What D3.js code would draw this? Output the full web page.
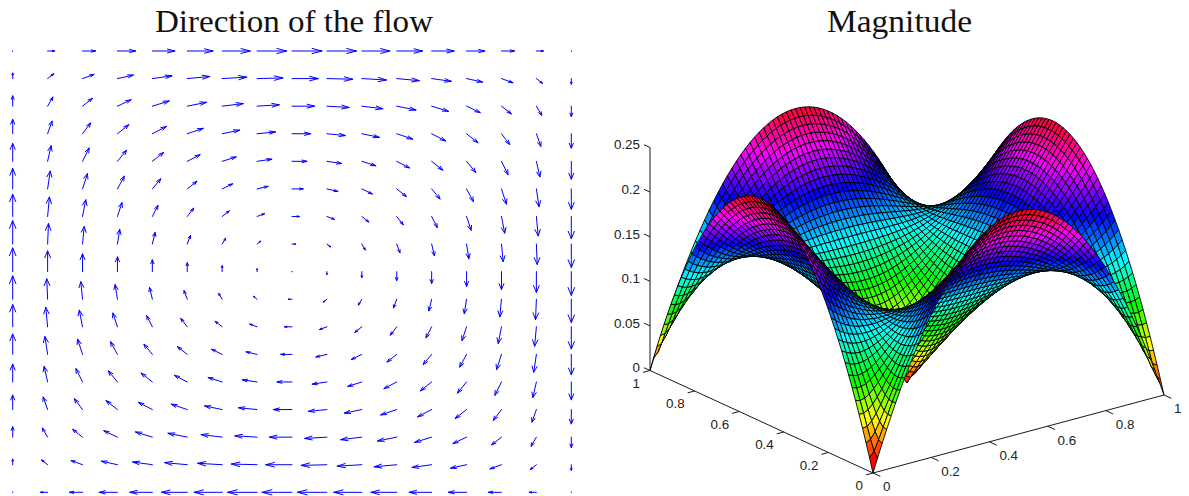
<!DOCTYPE html>
<html><head><meta charset="utf-8">
<script src="https://cdn.jsdelivr.net/npm/d3@7"></script>
<style>html,body{margin:0;padding:0;background:#fff;overflow:hidden}svg{display:block}</style>
</head><body><svg id="c" width="1189" height="496"></svg>
<script>
// ---- titles
const titleLeft = "Direction of the flow";
const titleRight = "Magnitude";
// ---- quiver: u and v read per grid point, rows from top (y=1) to bottom (y=0)
const quiverU = [
[0,.059,.109,.152,.188,.215,.234,.246,.25,.246,.234,.215,.188,.152,.109,.059,0],
[0,.051,.096,.133,.164,.188,.205,.215,.219,.215,.205,.188,.164,.133,.096,.051,0],
[0,.044,.082,.114,.141,.161,.176,.185,.188,.185,.176,.161,.141,.114,.082,.044,0],
[0,.037,.068,.095,.117,.134,.146,.154,.156,.154,.146,.134,.117,.095,.068,.037,0],
[0,.029,.055,.076,.094,.107,.117,.123,.125,.123,.117,.107,.094,.076,.055,.029,0],
[0,.022,.041,.057,.07,.081,.088,.092,.094,.092,.088,.081,.07,.057,.041,.022,0],
[0,.015,.027,.038,.047,.054,.059,.062,.063,.062,.059,.054,.047,.038,.027,.015,0],
[0,.007,.014,.019,.023,.027,.029,.031,.031,.031,.029,.027,.023,.019,.014,.007,0],
[0,0,0,0,0,0,0,0,0,0,0,0,0,0,0,0,0],
[0,-.007,-.014,-.019,-.023,-.027,-.029,-.031,-.031,-.031,-.029,-.027,-.023,-.019,-.014,-.007,0],
[0,-.015,-.027,-.038,-.047,-.054,-.059,-.062,-.063,-.062,-.059,-.054,-.047,-.038,-.027,-.015,0],
[0,-.022,-.041,-.057,-.07,-.081,-.088,-.092,-.094,-.092,-.088,-.081,-.07,-.057,-.041,-.022,0],
[0,-.029,-.055,-.076,-.094,-.107,-.117,-.123,-.125,-.123,-.117,-.107,-.094,-.076,-.055,-.029,0],
[0,-.037,-.068,-.095,-.117,-.134,-.146,-.154,-.156,-.154,-.146,-.134,-.117,-.095,-.068,-.037,0],
[0,-.044,-.082,-.114,-.141,-.161,-.176,-.185,-.188,-.185,-.176,-.161,-.141,-.114,-.082,-.044,0],
[0,-.051,-.096,-.133,-.164,-.188,-.205,-.215,-.219,-.215,-.205,-.188,-.164,-.133,-.096,-.051,0],
[0,-.059,-.109,-.152,-.188,-.215,-.234,-.246,-.25,-.246,-.234,-.215,-.188,-.152,-.109,-.059,0]];
const quiverV = [
[0,0,0,0,0,0,0,0,0,0,0,0,0,0,0,0,0],
[.059,.051,.044,.037,.029,.022,.015,.007,0,-.007,-.015,-.022,-.029,-.037,-.044,-.051,-.059],
[.109,.096,.082,.068,.055,.041,.027,.014,0,-.014,-.027,-.041,-.055,-.068,-.082,-.096,-.109],
[.152,.133,.114,.095,.076,.057,.038,.019,0,-.019,-.038,-.057,-.076,-.095,-.114,-.133,-.152],
[.188,.164,.141,.117,.094,.07,.047,.023,0,-.023,-.047,-.07,-.094,-.117,-.141,-.164,-.188],
[.215,.188,.161,.134,.107,.081,.054,.027,0,-.027,-.054,-.081,-.107,-.134,-.161,-.188,-.215],
[.234,.205,.176,.146,.117,.088,.059,.029,0,-.029,-.059,-.088,-.117,-.146,-.176,-.205,-.234],
[.246,.215,.185,.154,.123,.092,.062,.031,0,-.031,-.062,-.092,-.123,-.154,-.185,-.215,-.246],
[.25,.219,.188,.156,.125,.094,.063,.031,0,-.031,-.063,-.094,-.125,-.156,-.188,-.219,-.25],
[.246,.215,.185,.154,.123,.092,.062,.031,0,-.031,-.062,-.092,-.123,-.154,-.185,-.215,-.246],
[.234,.205,.176,.146,.117,.088,.059,.029,0,-.029,-.059,-.088,-.117,-.146,-.176,-.205,-.234],
[.215,.188,.161,.134,.107,.081,.054,.027,0,-.027,-.054,-.081,-.107,-.134,-.161,-.188,-.215],
[.188,.164,.141,.117,.094,.07,.047,.023,0,-.023,-.047,-.07,-.094,-.117,-.141,-.164,-.188],
[.152,.133,.114,.095,.076,.057,.038,.019,0,-.019,-.038,-.057,-.076,-.095,-.114,-.133,-.152],
[.109,.096,.082,.068,.055,.041,.027,.014,0,-.014,-.027,-.041,-.055,-.068,-.082,-.096,-.109],
[.059,.051,.044,.037,.029,.022,.015,.007,0,-.007,-.015,-.022,-.029,-.037,-.044,-.051,-.059],
[0,0,0,0,0,0,0,0,0,0,0,0,0,0,0,0,0]];
// ---- surface heights: the picture is symmetric, so one octant of the 65x65 mesh is kept.
// Row k holds the heights for index pairs (k,k), (k,k+1) ... (k,32).
const surfaceOctant = [
[0,.0154,.0303,.0447,.0586,.072,.085,.0974,.1094,.1208,.1318,.1423,.1523,.1619,.1709,.1794,.1875,.1951,.2021,.2087,.2148,.2205,.2256,.2302,.2344,.238,.2412,.2439,.2461,.2478,.249,.2498,.25],
[.0211,.0327,.0455,.0583,.071,.0832,.0951,.1066,.1176,.1282,.1382,.1479,.1571,.1658,.174,.1818,.1891,.1959,.2023,.2082,.2136,.2186,.2231,.2271,.2306,.2337,.2363,.2384,.2401,.2412,.242,.2422],
[.0401,.0501,.061,.0722,.0834,.0943,.105,.1154,.1253,.1349,.1441,.1528,.1611,.169,.1764,.1834,.19,.1961,.2017,.2069,.2117,.216,.2199,.2233,.2262,.2287,.2307,.2323,.2335,.2342,.2344],
[.0573,.0659,.0754,.0851,.0949,.1046,.1141,.1234,.1323,.1409,.1491,.1569,.1643,.1714,.178,.1842,.19,.1954,.2004,.2049,.209,.2127,.2159,.2188,.2211,.2231,.2246,.2257,.2264,.2266],
[.0725,.0801,.0883,.0967,.1053,.1138,.1222,.1303,.1382,.1459,.1531,.1601,.1667,.1729,.1787,.1842,.1893,.1939,.1982,.2021,.2056,.2087,.2113,.2136,.2155,.2169,.2179,.2186,.2188],
[.0859,.0925,.0996,.1069,.1144,.1218,.1291,.1362,.1431,.1498,.1562,.1622,.168,.1734,.1785,.1833,.1877,.1917,.1953,.1986,.2015,.204,.2061,.2078,.2092,.2102,.2107,.2109],
[.0976,.1033,.1094,.1156,.122,.1284,.1347,.1409,.1469,.1526,.1582,.1634,.1684,.1731,.1774,.1815,.1852,.1886,.1916,.1943,.1966,.1986,.2002,.2015,.2024,.203,.2031],
[.1076,.1124,.1175,.1229,.1283,.1337,.1391,.1443,.1494,.1544,.1591,.1636,.1678,.1718,.1755,.1789,.1819,.1847,.1872,.1893,.1912,.1926,.1938,.1946,.1952,.1953],
[.116,.12,.1242,.1286,.1331,.1377,.1422,.1466,.1509,.155,.159,.1627,.1663,.1696,.1726,.1754,.1779,.1801,.1821,.1837,.1851,.1861,.1869,.1874,.1875],
[.1228,.126,.1294,.133,.1367,.1404,.1441,.1477,.1512,.1546,.1579,.1609,.1638,.1665,.1689,.1711,.1731,.1748,.1763,.1775,.1785,.1791,.1796,.1797],
[.1282,.1306,.1333,.1361,.1389,.1419,.1448,.1477,.1505,.1532,.1558,.1582,.1605,.1626,.1645,.1662,.1677,.1689,.17,.1708,.1714,.1718,.1719],
[.1321,.1338,.1357,.1378,.1399,.1421,.1444,.1466,.1487,.1508,.1527,.1546,.1563,.1579,.1593,.1605,.1616,.1625,.1632,.1637,.164,.1641],
[.1347,.1357,.1369,.1383,.1398,.1413,.1428,.1444,.1459,.1474,.1488,.1501,.1514,.1525,.1534,.1543,.155,.1555,.1559,.1562,.1563],
[.1359,.1363,.1369,.1376,.1385,.1394,.1403,.1413,.1422,.1432,.1441,.1449,.1457,.1464,.147,.1475,.1479,.1482,.1484,.1484],
[.136,.1358,.1357,.1359,.1361,.1364,.1368,.1372,.1377,.1381,.1386,.139,.1394,.1398,.1401,.1403,.1405,.1406,.1406],
[.1348,.1341,.1335,.133,.1327,.1325,.1324,.1323,.1323,.1323,.1324,.1325,.1326,.1326,.1327,.1328,.1328,.1328],
[.1326,.1313,.1302,.1292,.1284,.1277,.1271,.1266,.1262,.1259,.1256,.1254,.1253,.1251,.1251,.125,.125],
[.1293,.1275,.1259,.1245,.1232,.1221,.1211,.1202,.1195,.1188,.1183,.1179,.1176,.1174,.1172,.1172],
[.1251,.1228,.1208,.1189,.1172,.1157,.1143,.1131,.1121,.1113,.1106,.1101,.1097,.1095,.1094],
[.1199,.1172,.1148,.1125,.1104,.1086,.1069,.1055,.1043,.1033,.1026,.102,.1017,.1016],
[.1139,.1109,.108,.1054,.103,.1009,.099,.0974,.0961,.0951,.0943,.0939,.0938],
[.1072,.1037,.1005,.0976,.095,.0927,.0906,.089,.0877,.0867,.0861,.0859],
[.0997,.0959,.0924,.0893,.0864,.084,.0819,.0803,.0791,.0784,.0781],
[.0916,.0875,.0838,.0804,.0775,.075,.073,.0715,.0706,.0703],
[.0829,.0785,.0746,.0711,.0681,.0657,.064,.0629,.0625],
[.0736,.0691,.065,.0615,.0586,.0565,.0551,.0547],
[.064,.0593,.0551,.0517,.0491,.0474,.0469],
[.0539,.0491,.045,.0418,.0398,.0391],
[.0435,.0386,.0347,.0322,.0313],
[.0329,.028,.0247,.0234],
[.022,.0175,.0156],
[.011,.0078],
[0]];
// ---- 3D axis ticks
const zTicks = [0,.05,.1,.15,.2,.25];
const zTickLabels = ["0","0.05","0.1","0.15","0.2","0.25"];
const xTicks = [0,.2,.4,.6,.8,1];
const xTickLabels = ["0","0.2","0.4","0.6","0.8","1"];
const yTicks = [0,.2,.4,.6,.8,1];
const yTickLabels = ["0","0.2","0.4","0.6","0.8","1"];

const svg = d3.select("#c");
const serif = "'Liberation Serif','Times New Roman',serif";
const sans = "'Liberation Sans',Arial,sans-serif";

// ---------- titles
svg.append("text").text(titleLeft).attr("x",294).attr("y",32).attr("text-anchor","middle")
  .attr("font-family",serif).attr("font-size",32).attr("fill","#111")
  .attr("textLength",278).attr("lengthAdjust","spacingAndGlyphs");
svg.append("text").text(titleRight).attr("x",899.5).attr("y",32).attr("text-anchor","middle")
  .attr("font-family",serif).attr("font-size",32).attr("fill","#111")
  .attr("textLength",145).attr("lengthAdjust","spacingAndGlyphs");

// ---------- quiver
const qx = d3.scaleLinear([0,1],[12.7,571.3]);
const qy = d3.scaleLinear([0,1],[492.3,51]);
const qn = quiverU.length;
const arrowScale = .215, alpha = .33, beta = .33;
const arrows = [];
quiverU.forEach((row,r)=>row.forEach((uv,c)=>{
  arrows.push({x:c/(qn-1), y:1-r/(qn-1), u:uv*arrowScale, v:quiverV[r][c]*arrowScale});
}));
svg.append("g").attr("fill","none").attr("stroke","#0000ff").attr("stroke-width",1)
  .attr("stroke-linecap","round").attr("stroke-linejoin","miter")
  .selectAll("path").data(arrows).join("path").attr("d",d=>{
    const tx=d.x+d.u, ty=d.y+d.v;
    const p=d3.path();
    p.moveTo(qx(d.x),qy(d.y)); p.lineTo(qx(tx),qy(ty));
    p.moveTo(qx(tx-alpha*(d.u+beta*d.v)),qy(ty-alpha*(d.v-beta*d.u)));
    p.lineTo(qx(tx),qy(ty));
    p.lineTo(qx(tx-alpha*(d.u-beta*d.v)),qy(ty-alpha*(d.v+beta*d.u)));
    return p.toString();
  });

// ---------- 3D projection built from linear scales
const sxOfX = d3.scaleLinear([0,1],[0,291]);
const sxOfY = d3.scaleLinear([0,1],[0,-223]);
const syOfX = d3.scaleLinear([0,1],[0,-78]);
const syOfY = d3.scaleLinear([0,1],[0,-102.5]);
const syOfZ = d3.scaleLinear([0,.25],[0,-223]);
const project = (x,y,z)=>[873+sxOfX(x)+sxOfY(y), 473+syOfX(x)+syOfY(y)+syOfZ(z)];

const hsv = d3.scaleQuantize().domain([0,.25]).range(d3.range(64).map(k=>d3.hsl(k/64*360,1,.5).formatHex()));
const N = 64, H = N/2;
const fold = i=>i<=H?i:N-i;
const height = (i,j)=>{const a=fold(i),b=fold(j),lo=Math.min(a,b),hi=Math.max(a,b);return surfaceOctant[lo][hi-lo];};

// axes first, behind the surface
const axes = svg.append("g").attr("stroke","#1a1a1a").attr("stroke-width",1).attr("fill","none");
const seg = (a,b)=>axes.append("line").attr("x1",a[0]).attr("y1",a[1]).attr("x2",b[0]).attr("y2",b[1]);
seg(project(0,1,0),project(0,1,.25));
seg(project(0,0,0),project(1,0,0));
seg(project(0,0,0),project(0,1,0));
zTicks.forEach(z=>seg(project(0,1,z),project(0,1.027,z)));
xTicks.forEach(x=>seg(project(x,0,0),project(x,-.033,0)));
yTicks.forEach(y=>seg(project(0,y,0),project(-.024,y,0)));

const labels = svg.append("g").attr("font-family",sans).attr("font-size",13.4).attr("fill","#222");
zTicks.forEach((z,k)=>{const p=project(0,1,z);
  labels.append("text").text(zTickLabels[k]).attr("x",640).attr("y",p[1]-3+4.8).attr("text-anchor","end");});
xTicks.forEach((x,k)=>{const p=project(x,0,0);
  labels.append("text").text(xTickLabels[k]).attr("x",p[0]+10).attr("y",p[1]+13.6+4.8).attr("text-anchor","start");});
yTicks.forEach((y,k)=>{const p=project(0,y,0);
  labels.append("text").text(yTickLabels[k]).attr("x",p[0]-10).attr("y",p[1]+12.4+4.8).attr("text-anchor","end");});

// surface cells, far to near
const cells=[];
for(let j=N-1;j>=0;j--)for(let i=N-1;i>=0;i--)cells.push({i,j});
svg.append("g").attr("stroke","#000").attr("stroke-width",.9).attr("stroke-linejoin","round")
  .selectAll("path").data(cells).join("path")
  .attr("fill",d=>hsv(height(d.i,d.j)))
  .attr("d",d=>{
    const c=[[d.i,d.j],[d.i+1,d.j],[d.i+1,d.j+1],[d.i,d.j+1]].map(([a,b])=>project(a/N,b/N,height(a,b)));
    return d3.line()(c)+"Z";
  });
</script></body></html>
